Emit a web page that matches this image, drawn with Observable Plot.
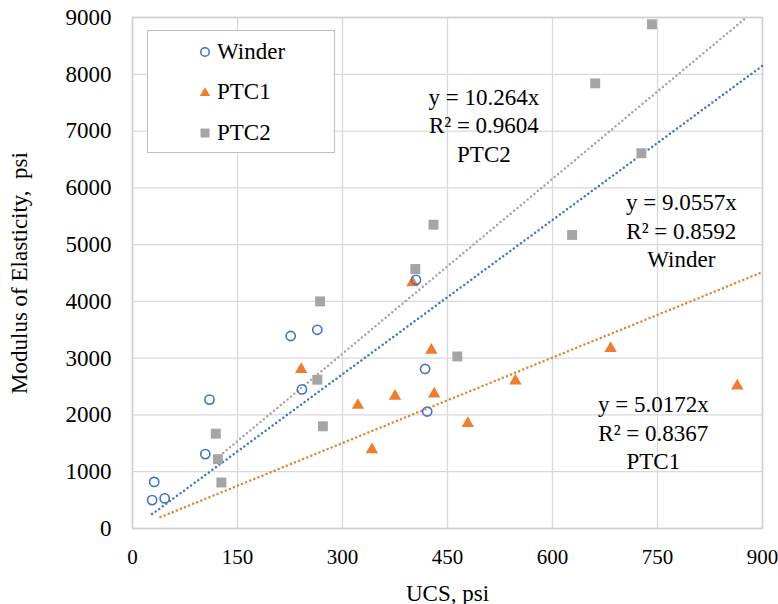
<!DOCTYPE html>
<html><head><meta charset="utf-8">
<script src="https://cdn.jsdelivr.net/npm/d3@7"></script>
<script src="https://cdn.jsdelivr.net/npm/@observablehq/plot@0.6"></script>
<style>
body{margin:0;background:#fff;}
#wrap{position:relative;width:778px;height:604px;font-family:"Liberation Serif","Times New Roman",serif;}
#legend{position:absolute;left:147px;top:30px;width:188px;height:123px;border:1.4px solid #bfbfbf;background:#fff;box-sizing:border-box;}
.item{position:absolute;left:0;height:26px;display:flex;align-items:center;font-size:23px;color:#000;line-height:26px;}
.item svg{margin-left:51px;margin-right:6px;}
</style></head>
<body><div id="wrap"><div id="chart"></div><div id="legend"></div></div>
<script>
// ---- data ----
const winderUCS = [28, 31, 46, 104, 110, 226, 242, 264, 405, 418, 421];
const winderE   = [500, 820, 530, 1310, 2270, 3390, 2450, 3500, 4380, 2810, 2060];
const ptc1UCS = [241, 322, 342, 375, 400, 427, 431, 479, 547, 683, 864];
const ptc1E   = [2800, 2170, 1390, 2330, 4330, 3140, 2370, 1850, 2600, 3170, 2510];
const ptc2UCS = [119, 122, 127, 264, 268, 272, 404, 430, 464, 628, 661, 727, 742];
const ptc2E   = [1670, 1220, 810, 2620, 4000, 1800, 4570, 5350, 3030, 5170, 7840, 6610, 8880];

const series = ["Winder", "PTC1", "PTC2"];
const colors = ["#4472C4", "#ED7D31", "#A5A5A5"];
const slopes = [9.0557, 5.0172, 10.264];
const slopeText = ["9.0557", "5.0172", "10.264"];
const r2Text = ["0.8592", "0.8367", "0.9604"];
const trendStart = [28, 40, 120];
const labelUCS = [784, 744, 502];
const labelE = [5264, 1708, 7121];
const xTicks = [0, 150, 300, 450, 600, 750, 900];
const yTicks = [0, 1000, 2000, 3000, 4000, 5000, 6000, 7000, 8000, 9000];

// ---- build tables ----
const toRows = (xs, ys, s) => xs.map((x, i) => ({x, y: ys[i], s}));
const winder = toRows(winderUCS, winderE, "Winder");
const ptc1 = toRows(ptc1UCS, ptc1E, "PTC1");
const ptc2 = toRows(ptc2UCS, ptc2E, "PTC2");
const xMax = xTicks[xTicks.length - 1], yMax = yTicks[yTicks.length - 1];
const trends = series.map((s, i) => {
  const x1 = Math.min(xMax, yMax / slopes[i]);
  return [{x: trendStart[i], y: slopes[i] * trendStart[i], s}, {x: x1, y: slopes[i] * x1, s}];
});
const notes = series.map((s, i) => ({x: labelUCS[i], y: labelE[i], text: `y = ${slopeText[i]}x\nR² = ${r2Text[i]}\n${s}`}));

const dotted = (data, c) => Plot.line(data, {x: "x", y: "y", stroke: c, strokeWidth: 2.5, strokeDasharray: "0 4.4", strokeLinecap: "round"});

const chart = Plot.plot({
  width: 778, height: 604,
  marginLeft: 132, marginRight: 16, marginTop: 17, marginBottom: 76,
  style: {fontFamily: "'Liberation Serif','Times New Roman',serif", fontSize: "23px", color: "#000", background: "#fff", overflow: "visible"},
  x: {domain: [0, xMax]},
  y: {domain: [0, yMax]},
  marks: [
    Plot.gridX(xTicks, {stroke: "#d9d9d9", strokeOpacity: 1, strokeWidth: 1.3}),
    Plot.gridY(yTicks, {stroke: "#d9d9d9", strokeOpacity: 1, strokeWidth: 1.3}),
    Plot.frame({stroke: "#d0d0d0", strokeWidth: 1.5}),
    Plot.axisX(xTicks, {tickSize: 0, tickPadding: 21, fontSize: 21, label: null, tickFormat: d => String(d)}),
    Plot.axisX([], {tickSize: 0, fontSize: 23, label: "UCS, psi", labelAnchor: "center", labelOffset: 72, labelArrow: "none"}),
    Plot.axisY(yTicks, {tickSize: 0, tickPadding: 21, fontSize: 23, label: "Modulus of Elasticity,  psi", labelAnchor: "center", labelOffset: 122, labelArrow: "none", tickFormat: d => String(d)}),
    dotted(trends[2], colors[2]),
    dotted(trends[0], colors[0]),
    dotted(trends[1], colors[1]),
    Plot.dot(ptc2, {x: "x", y: "y", symbol: "square", r: 5.6, fill: colors[2], stroke: "none"}),
    Plot.dot(ptc1, {x: "x", y: "y", symbol: "triangle", r: 4.6, fill: colors[1], stroke: "none"}),
    Plot.dot(winder, {x: "x", y: "y", symbol: "circle", r: 4.6, fill: "none", stroke: colors[0], strokeWidth: 1.6}),
    Plot.text(notes, {x: "x", y: "y", text: "text", fontSize: 23, lineHeight: 1.24, fill: "#000"})
  ]
});
document.getElementById("chart").appendChild(chart);

// ---- legend ----
const legend = document.getElementById("legend");
const symbols = [
  c => `<circle cx="6" cy="6" r="4.3" fill="none" stroke="${c}" stroke-width="1.6"/>`,
  c => `<path d="M6 1.2 L11.2 10 L0.8 10 Z" fill="${c}"/>`,
  c => `<rect x="1.5" y="1.5" width="9" height="9" fill="${c}"/>`
];
series.forEach((s, i) => {
  const d = document.createElement("div");
  d.className = "item";
  d.style.top = (8 + i * 40.3) + "px";
  d.innerHTML = `<svg width="12" height="12">${symbols[i](colors[i])}</svg><span>${s}</span>`;
  legend.appendChild(d);
});
</script></body></html>
